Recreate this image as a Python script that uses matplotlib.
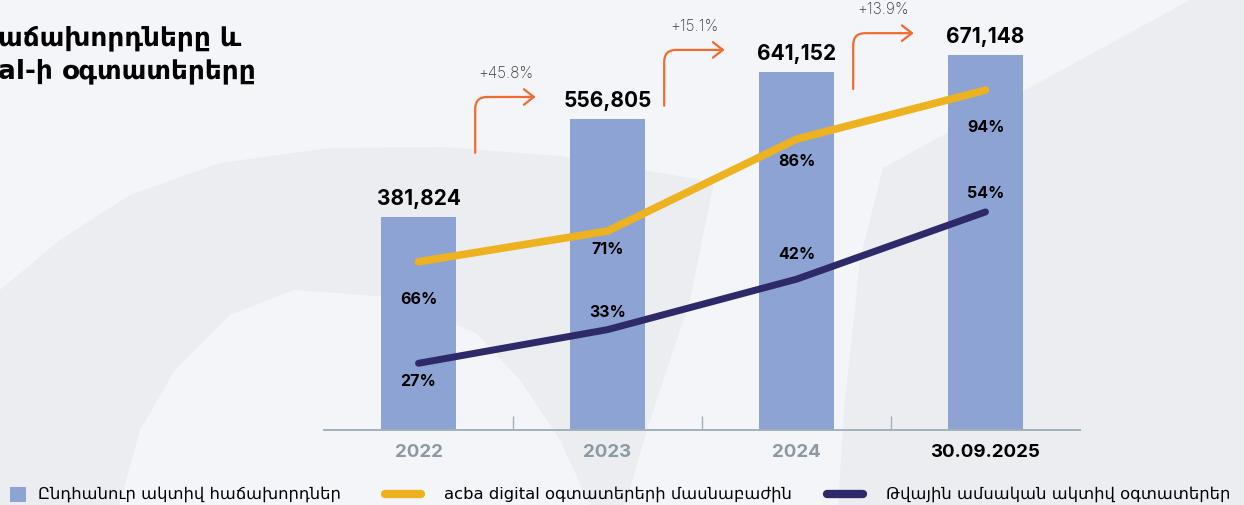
import numpy as np
import matplotlib
matplotlib.use("Agg")
import matplotlib.pyplot as plt
from matplotlib.patches import Polygon, Rectangle
from matplotlib.lines import Line2D

# data
periods = ["2022", "2023", "2024", "30.09.2025"]
total_clients = [381824, 556805, 641152, 671148]
digital_share = [66, 71, 86, 94]
online_active = [27, 33, 42, 54]
growth = ["+45.8%", "+15.1%", "+13.9%"]

title_lines = ["աճախորդները և", "al-ի օգտատերերը"]
legend_labels = ["Ընդհանուր ակտիվ հաճախորդներ",
                 "acba digital օգտատերերի մասնաբաժին",
                 "Թվային ամսական ակտիվ օգտատերեր"]

BG = "#F4F5F9"
SHADE = "#ECEDF1"
BAR = "#8DA3D3"
YELLOW = "#EDB21F"
NAVY = "#2E2A6A"
ORANGE = "#F26B2C"
AXIS = "#A2B1BA"
TICK_GRAY = "#8A99A3"
NUM_FONT = "Inter"
ARM_FONT = ["DejaVu Sans"]

W, H = 1244, 505


def fx(x):
    return x / W


def fy(y):
    return 1 - y / H


def shape(pts, color):
    fig.add_artist(Polygon([(fx(a), fy(b)) for a, b in pts], closed=True,
                           facecolor=color, edgecolor="none",
                           transform=fig.transFigure, zorder=0))


fig = plt.figure(figsize=(W / 100, H / 100), dpi=100, facecolor=BG)

# faint background logo shapes
shape([(0, 290), (60, 240), (130, 195), (220, 163), (330, 148), (444, 147),
       (560, 156), (714, 182), (690, 300), (650, 420), (625, 505), (590, 505),
       (560, 440), (520, 380), (476, 333), (390, 297), (294, 290), (230, 315),
       (175, 370), (140, 430), (119, 505), (0, 505)], SHADE)
shape([(883, 168), (1190, 0), (1244, 0), (1244, 505), (838, 505), (845, 400),
       (860, 260)], SHADE)

ax = fig.add_axes([fx(324), fy(430), (1080 - 324) / W, 430 / H])
ax.set_facecolor("none")
x = np.arange(len(periods))

ax.bar(x, total_clients, width=0.40, color=BAR, zorder=2)
ax.set_xlim(-0.5, 3.5)
ax.set_ylim(0, 770600)

for i, v in enumerate(total_clients):
    ax.annotate(f"{v:,}", (i, v), xytext=(0, 6), textcoords="offset points",
                ha="center", va="bottom", fontsize=15, fontweight="bold",
                family=NUM_FONT, color="black")

# growth arrows between bars
for i, g in enumerate(growth):
    nxt = total_clients[i + 1]
    y0 = nxt - 60000
    y1 = nxt + 40000
    ax.annotate("", xy=(i + 0.62, y1), xytext=(i + 0.30, y0),
                arrowprops=dict(arrowstyle="->,head_length=0.45,head_width=0.35",
                                connectionstyle="angle,angleA=90,angleB=0,rad=12",
                                color=ORANGE, lw=1.6, shrinkA=0, shrinkB=0,
                                mutation_scale=16), zorder=3)
    ax.annotate(g, (i + 0.46, y1), xytext=(0, 17), textcoords="offset points",
                ha="center", va="center", fontsize=11, fontweight="light",
                family=NUM_FONT, color="#3A3A3A")

for s in ["top", "right", "left"]:
    ax.spines[s].set_visible(False)
ax.spines["bottom"].set_color(AXIS)
ax.spines["bottom"].set_linewidth(1.4)
ax.set_yticks([])
ax.set_xticks(x)
ax.set_xticklabels(periods, fontsize=13.5, fontweight="bold", family=NUM_FONT)
for lbl, c in zip(ax.get_xticklabels(), [TICK_GRAY, TICK_GRAY, TICK_GRAY, "black"]):
    lbl.set_color(c)
ax.tick_params(axis="x", which="major", length=0, pad=10)
ax.set_xticks(x[:-1] + 0.5, minor=True)
ax.tick_params(axis="x", which="minor", direction="in", length=10, color=AXIS, width=1)

# share of acba digital users
ax2 = ax.twinx()
ax2.set_ylim(38.55, 108.7)
ax2.axis("off")
ax2.plot(x, digital_share, color=YELLOW, lw=5.5, solid_capstyle="round",
         solid_joinstyle="round", zorder=4)
yellow_offsets = [-27, -13, -16, -27]
for i, v in enumerate(digital_share):
    ax2.annotate(f"{v}%", (i, v), xytext=(0, yellow_offsets[i]), textcoords="offset points",
                 ha="center", va="center", fontsize=11.5, fontweight="bold",
                 family=NUM_FONT, color="black")

# monthly active digital users
ax3 = ax.twinx()
ax3.set_ylim(15.1, 91.8)
ax3.axis("off")
ax3.plot(x, online_active, color=NAVY, lw=5, solid_capstyle="round",
         solid_joinstyle="round", zorder=4)
navy_offsets = [-13, 12, 18, 13]
for i, v in enumerate(online_active):
    ax3.annotate(f"{v}%", (i, v), xytext=(0, navy_offsets[i]), textcoords="offset points",
                 ha="center", va="center", fontsize=11.5, fontweight="bold",
                 family=NUM_FONT, color="black")

# title (cropped at the left edge in the original)
fig.text(fx(-2), fy(38), title_lines[0], ha="left", va="center", fontsize=19,
         fontweight="bold", family=ARM_FONT, color="black")
fig.text(fx(-2), fy(71), title_lines[1], ha="left", va="center", fontsize=19,
         fontweight="bold", family=ARM_FONT, color="black")

# legend row
fig.add_artist(Rectangle((fx(10), fy(502)), 16 / W, 15 / H, facecolor=BAR,
                         edgecolor="none", transform=fig.transFigure))
fig.add_artist(Line2D([fx(385), fx(421)], [fy(494), fy(494)], color=YELLOW, lw=6,
                      solid_capstyle="round", transform=fig.transFigure))
fig.add_artist(Line2D([fx(827), fx(863)], [fy(494), fy(494)], color=NAVY, lw=6,
                      solid_capstyle="round", transform=fig.transFigure))
for xp, lab in zip([38, 444, 886], legend_labels):
    fig.text(fx(xp), fy(494), lab, ha="left", va="center", fontsize=11.8,
             family=ARM_FONT, color="black")

fig.savefig("out.png", dpi=100, facecolor=BG)
